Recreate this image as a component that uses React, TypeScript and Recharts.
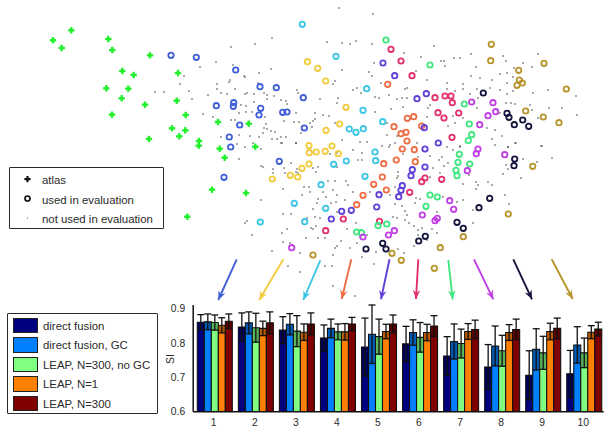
import { BarChart, Bar, XAxis, YAxis, ErrorBar, ScatterChart, Scatter, ReferenceLine } from "recharts";

type Pt = [number, number];

const atlas: Pt[] = [[71.3,30.3],[53,40.3],[61.7,48],[108.3,39],[112.3,50],[150,55.3],[122.3,71],[133.7,75],[178,73],[106.3,88.3],[128.3,88.7],[121.7,98.3],[145,104.7],[176.7,100.7],[112,114.7],[185.7,115],[218,122],[248.7,123.7],[172,128.3],[185.3,130.3],[179.3,136.3],[149,139],[199,141],[198.7,145.7],[219.7,148.7],[255.3,146.7],[224.7,157.7],[212,189.7],[246,193],[187.3,216.7]];

const notUsed: Pt[] = [
  [231,47],[255,44],[272,38],[216,62],[200,67],[233,65],[271,69],[259,73],[184,76],[244,76],[245,77],[230,80],[229,82],[180,84],[217,84],[258,83],[189,91],[155,92],[164,92],[217,89],[221,93],[227,94],[235,89],[245,94],[247,93],[254,94],[264,93],[267,95],[274,96],[297,90],[298,93],[208,95],[192,99],[267,99],[281,100],[286,101],[287,104],[241,105],[246,106],[254,102],[203,114],[239,113],[246,112],[252,112],[265,117],[296,113],[213,117],[231,120],[235,120],[266,124],[284,121],[294,122],[299,122],[264,128],[267,129],[271,131],[275,132],[263,133],[250,136],[239,135],[221,137],[259,137],[281,137],[286,137],[296,143],[301,133],[272,139],[277,139],[281,143],[237,144],[253,143],[245,147],[261,149],
  [339,8],[373,14],[327,42],[342,43],[350,44],[356,41],[372,44],[434,46],[404,53],[421,57],[471,54],[441,61],[444,61],[445,66],[454,58],[460,58],[476,67],[503,56],[506,61],[538,54],[532,67],[523,63],[514,68],[342,70],[369,72],[372,76],[374,63],[416,71],[427,80],[335,81],[333,84],[381,83],[447,83],[463,84],[471,76],[480,78],[492,80],[500,74],[507,73],[507,83],[513,77],[533,93],[548,90],[576,96],[353,90],[357,88],[361,93],[375,97],[379,98],[389,95],[397,99],[402,98],[407,98],[405,89],[407,88],[320,99],[338,98],[337,103],[447,89],[455,91],[463,89],[470,94],[477,89],[478,98],[490,88],[500,90],[507,94],[513,91],[506,103],[511,103],[515,104],[530,105],[532,110],[549,108],[562,108],[577,115],[538,118],[500,113],[315,113],[323,115],[329,116],[375,112],[391,109],[403,107],[428,108],[430,105],[477,108],[453,116],[463,118],[427,117],[315,119],[313,121],[310,123],[335,123],[387,123],[312,127],[455,123],[448,126],[487,128],[495,130],[502,136],[492,139],[387,135],[397,136],[342,140],[360,142],[367,142],[390,145],[382,146],[417,143],[447,147],[460,146],[508,147],[515,143],[542,146],
  [239,159],[282,143],[296,143],[261,166],[263,167],[273,169],[273,173],[284,168],[285,173],[291,163],[297,169],[296,172],[298,173],[313,168],[316,172],[318,167],[337,167],[335,181],[328,181],[346,181],[348,185],[353,150],[362,153],[358,160],[362,160],[330,154],[337,153],[283,189],[304,187],[309,187],[310,192],[323,192],[333,190],[353,192],[261,200],[302,195],[318,199],[317,203],[326,197],[337,195],[331,203],[336,202],[345,200],[370,192],[283,214],[291,214],[313,209],[307,218],[315,217],[320,218],[337,212],[245,223],[247,221],[252,235],[282,233],[287,229],[306,238],[311,228],[313,229],[316,226],[318,238],[325,238],[347,229],[356,223],[360,237],[367,235],[283,242],[290,243],[272,251],[300,253],[333,255],[337,246],[335,248],[341,241],[350,248],[357,243],[362,257],[376,252],[288,266],[300,272],[325,266],[332,266],[333,286],[355,296],[374,264],
  [389,147],[395,143],[403,154],[418,157],[430,156],[442,157],[439,160],[448,163],[444,166],[453,150],[460,147],[495,145],[508,147],[516,143],[541,146],[552,158],[523,159],[537,162],[506,165],[508,169],[503,174],[521,178],[488,182],[492,185],[398,172],[398,176],[397,178],[433,168],[430,177],[440,173],[469,175],[476,182],[478,185],[476,189],[463,184],[395,187],[390,195],[395,204],[402,206],[416,198],[420,199],[443,197],[457,202],[463,200],[505,195],[509,204],[473,210],[405,211],[407,215],[405,220],[393,217],[397,218],[415,203],[437,212],[409,223],[414,226],[418,230],[422,228],[432,229],[437,233],[418,235],[473,223],[427,240],[414,246],[398,249],[404,253],
];

const blueRings: Pt[] = [[171,55.3],[196.3,57.3],[235.7,70],[260,86.7],[276.3,87.7],[303.3,97.7],[216.3,105.7],[233.7,102.7],[233.3,106.3],[260.7,108.3],[259,115],[282.7,112.3],[287,112],[239.7,125],[304.3,128],[229.3,137],[230.7,147],[279.3,161.3],[224,177.3]];
const yellowRings: Pt[] = [[307.5,61.7],[317.7,68.3],[325.7,81],[346,107.3],[339.7,124],[326,130.3],[309,145.7],[332,146],[309.3,152.7],[316.3,152],[325.3,151.3],[338.3,153.7],[309,164],[302,168.3],[290.3,175.3],[297.7,177],[272.3,179]];
const cyanRings: Pt[] = [[302.3,24.3],[336,56.3],[366.7,88.7],[363,110.3],[382.7,121.7],[349.3,129],[356,132.3],[363.3,128.7],[375,152],[375.7,160.7],[346.3,161],[333.7,164.3],[365,176.3],[321,184.7],[294.3,203.3],[325.7,208.3],[304.7,221.7],[260.3,222]];
const orangeRings: Pt[] = [[387.7,84.3],[407.3,118.3],[413.7,116.7],[421.7,126],[394,126.7],[401,133.7],[406,132.3],[407,141],[402.3,149],[414.3,149.7],[383.7,163.7],[382.3,177],[373.7,184.3],[386.3,190],[363,195.3],[356.7,204.7],[396.3,160],[415.3,161.7]];
const purpleRings: Pt[] = [[383,63],[394.7,75.7],[417,98.7],[426.3,93.7],[424.3,127.7],[438.3,143],[425,149],[425,167],[412.3,169.7],[411,175.7],[402.3,185.7],[401,190.3],[398.7,196.7],[379,194.7],[376.7,207],[351.3,210.3],[341.7,211.3],[331.3,219]];
const pinkRings: Pt[] = [[391,49.3],[401,61],[412,75.7],[435,97.7],[445,96],[451,96],[452.3,102.7],[438,112.7],[444,118],[458.7,113],[452,137.3],[441.7,179.3],[425,178],[421.7,181.7],[409.7,192.3],[379.5,221.3],[343.3,219],[325.7,230.7]];
const greenRings: Pt[] = [[386,40],[430,65],[464.3,104],[469.3,124],[471.7,134.7],[468.3,140.5],[459.3,154.3],[458,162.3],[469.7,164],[456,170.3],[457,175.7],[430,195],[437.3,197],[426,206.3],[386.7,224],[378,225.7],[356.7,232],[361.3,232.7]];
const magentaRings: Pt[] = [[471.7,102],[493,102.7],[495.7,111.7],[488,115.7],[479.7,124.7],[478,149],[476.3,153.7],[504.7,154.7],[467.3,170.7],[449.7,200.7],[453.7,209.3],[422.3,215],[437.3,218.3],[435,220.7],[394.3,230.7],[388.5,235],[363,237],[291.7,247.7]];
const navyRings: Pt[] = [[483.3,93],[507,113.3],[509,117.3],[522.7,120],[514.3,124.7],[528.7,126.3],[514.7,159],[514,165.7],[489.7,198.3],[479,207.7],[457,222.3],[463.3,228.3],[425.3,236.3],[418.7,241],[382.7,243.3],[386,249],[366,249]];
const goldRings: Pt[] = [[491.3,44.3],[490.7,60.7],[544,63.3],[518.7,70.3],[519.3,80],[522.3,83],[517,85.3],[566.3,89],[525.7,111],[543.3,117],[559,122.7],[532.7,166.3],[508.3,214],[463.3,236.7],[440.3,247.7],[392,253.3],[401.3,260.3],[434.3,268.3],[313,255]];

const ringSets: [Pt[], string][] = [
  [blueRings, "#3f5fd6"],
  [yellowRings, "#f2cb3e"],
  [cyanRings, "#3cc6e4"],
  [orangeRings, "#ee6e44"],
  [purpleRings, "#6040d8"],
  [pinkRings, "#e2306e"],
  [greenRings, "#3fe67e"],
  [magentaRings, "#c03fe2"],
  [navyRings, "#14143e"],
  [goldRings, "#b8942c"],
];

// tail, tip, colour - one arrow per evaluation group
const arrows: [Pt, Pt, string][] = [
  [[236.7,259.3],[218.3,300],"#3f5fd6"],
  [[283.3,259.3],[259.3,300],"#f2cb3e"],
  [[320.3,260.3],[303.3,300],"#3cc6e4"],
  [[351.3,259.3],[341.7,299],"#ee6e44"],
  [[389.5,259.3],[381,299.3],"#6040d8"],
  [[418.3,259.3],[416,299],"#e2306e"],
  [[448.3,260],[452.7,299.3],"#3fe67e"],
  [[474,259.3],[493.3,299.3],"#c03fe2"],
  [[513.3,259.3],[532,299.3],"#14143e"],
  [[551.7,259.3],[572.7,299],"#b8942c"],
];

const groups = ["1", "2", "3", "4", "5", "6", "7", "8", "9", "10"];
const seriesNames = ["direct fusion", "direct fusion, GC", "LEAP, N=300, no GC", "LEAP, N=1", "LEAP, N=300"];
const seriesColors = ["#00007f", "#007fff", "#80ff80", "#ff7f00", "#7f0000"];

const directFusion = [0.860, 0.846, 0.837, 0.814, 0.788, 0.797, 0.762, 0.730, 0.706, 0.710];
const directFusionGC = [0.861, 0.858, 0.854, 0.842, 0.825, 0.830, 0.804, 0.791, 0.781, 0.794];
const leapNoGC = [0.859, 0.844, 0.834, 0.832, 0.818, 0.816, 0.798, 0.777, 0.771, 0.771];
const leapN1 = [0.851, 0.842, 0.831, 0.832, 0.833, 0.830, 0.833, 0.830, 0.833, 0.831];
const leapN300 = [0.863, 0.858, 0.855, 0.855, 0.855, 0.849, 0.839, 0.839, 0.842, 0.840];

const directFusionErr = [0.022, 0.041, 0.039, 0.038, 0.084, 0.051, 0.056, 0.065, 0.071, 0.068];
const directFusionGCErr = [0.023, 0.032, 0.031, 0.027, 0.085, 0.037, 0.051, 0.058, 0.060, 0.053];
const leapNoGCErr = [0.022, 0.042, 0.045, 0.023, 0.051, 0.043, 0.042, 0.045, 0.048, 0.043];
const leapN1Err = [0.022, 0.021, 0.024, 0.024, 0.021, 0.024, 0.023, 0.023, 0.024, 0.019];
const leapN300Err = [0.021, 0.032, 0.032, 0.019, 0.026, 0.030, 0.027, 0.030, 0.030, 0.020];

const means = [directFusion, directFusionGC, leapNoGC, leapN1, leapN300];
const errs = [directFusionErr, directFusionGCErr, leapNoGCErr, leapN1Err, leapN300Err];

const barData = groups.map((name, i) => {
  const row: Record<string, number | string> = { name };
  means.forEach((m, s) => {
    row[`m${s}`] = m[i];
    row[`e${s}`] = errs[s][i];
  });
  return row;
});

const toPoints = (pts: Pt[]) => pts.map(([x, y]) => ({ x, y }));

const FONT = '"Liberation Sans", Arial, sans-serif';

function Ring(props: any) {
  return <circle cx={props.cx} cy={props.cy} r={2.7} fill="none" stroke={props.ringColor} strokeWidth={1.8} />;
}

function Plus({ cx, cy }: any) {
  return (
    <g fill="#22f02c">
      <rect x={cx - 3.2} y={cy - 1.2} width={6.4} height={2.4} />
      <rect x={cx - 1.2} y={cy - 3.2} width={2.4} height={6.4} />
    </g>
  );
}

function Dot({ cx, cy }: any) {
  return <circle cx={cx} cy={cy} r={0.75} fill="#2a2a2a" />;
}

function arrowShape(color: string) {
  return ({ x1, y1, x2, y2 }: any) => {
    const a = Math.atan2(y2 - y1, x2 - x1);
    const back = (len: number, off: number) =>
      `${x2 - len * Math.cos(a) - off * Math.sin(a)},${y2 - len * Math.sin(a) + off * Math.cos(a)}`;
    return (
      <g>
        <line x1={x1} y1={y1} x2={x2} y2={y2} stroke={color} strokeWidth={1.9} />
        <polygon points={`${x2},${y2} ${back(9, 3.8)} ${back(6, 0)} ${back(9, -3.8)}`} fill={color} />
      </g>
    );
  };
}

function Embedding() {
  return (
    <ScatterChart width={612} height={432} margin={{ top: 0, right: 0, bottom: 0, left: 0 }}>
      <XAxis type="number" dataKey="x" domain={[0, 612]} hide />
      <YAxis type="number" dataKey="y" domain={[0, 432]} reversed hide />
      <Scatter data={toPoints(notUsed)} shape={<Dot />} isAnimationActive={false} />
      <Scatter data={toPoints(atlas)} shape={<Plus />} isAnimationActive={false} />
      {ringSets.map(([pts, color]) => (
        <Scatter key={color} data={toPoints(pts)} shape={<Ring ringColor={color} />} isAnimationActive={false} />
      ))}
      {arrows.map(([tail, tip, color]) => (
        <ReferenceLine
          key={color}
          segment={[{ x: tail[0], y: tail[1] }, { x: tip[0], y: tip[1] }]}
          shape={arrowShape(color)}
          ifOverflow="visible"
        />
      ))}
    </ScatterChart>
  );
}

function Bars() {
  return (
    <BarChart
      width={612}
      height={432}
      data={barData}
      margin={{ top: 305, right: 8.3, bottom: 0, left: 163.2 }}
      barCategoryGap="10%"
      barGap={0}
    >
      <XAxis
        dataKey="name"
        height={20.3}
        tickLine={false}
        axisLine={{ stroke: "#111", strokeWidth: 1.5 }}
        tick={{ fontSize: 10.3, fill: "#2a2a2a", fontFamily: FONT, dy: -1 }}
        interval={0}
      />
      <YAxis
        width={30}
        domain={[0.6, 0.91]}
        ticks={[0.6, 0.7, 0.8, 0.9]}
        tickLine={false}
        tickMargin={2}
        tickFormatter={(v) => v.toFixed(1)}
        axisLine={{ stroke: "#111", strokeWidth: 1.5 }}
        tick={{ fontSize: 10.3, fill: "#2a2a2a", fontFamily: FONT }}
        allowDataOverflow
      />
      {seriesNames.map((name, s) => (
        <Bar
          key={name}
          dataKey={`m${s}`}
          fill={seriesColors[s]}
          stroke="#111"
          strokeWidth={1.1}
          isAnimationActive={false}
        >
          <ErrorBar
            dataKey={(d: any) => [d[`e${s}`], 0]}
            width={0}
            stroke="#000"
            strokeOpacity={0.3}
            strokeWidth={5.5}
            isAnimationActive={false}
          />
          <ErrorBar dataKey={`e${s}`} width={3.5} stroke="#111" strokeWidth={1.3} isAnimationActive={false} />
        </Bar>
      ))}
    </BarChart>
  );
}

const boxStyle = {
  position: "absolute",
  boxSizing: "border-box",
  background: "#fff",
  border: "1.5px solid #2a2a2a",
  borderRadius: 1,
  fontFamily: FONT,
  fontSize: 11.4,
  color: "#2a2a2a",
} as const;

const rowText = { position: "absolute", whiteSpace: "nowrap", lineHeight: "14px" } as const;

function MarkerLegend() {
  const labels = ["atlas", "used in evaluation", "not used in evaluation"];
  const tops = [5, 24.7, 44.3];
  return (
    <div style={{ ...boxStyle, left: 9, top: 167, width: 155, height: 62 }}>
      {labels.map((label, i) => (
        <div key={label} style={{ ...rowText, left: 32, top: tops[i] }}>{label}</div>
      ))}
      <svg width={30} height={60} style={{ position: "absolute", left: 0, top: 0 }}>
        <rect x={14.4} y={10} width={6.2} height={2.2} fill="#111" />
        <rect x={16.4} y={8} width={2.2} height={6.2} fill="#111" />
        <circle cx={17.5} cy={30.5} r={2.5} fill="none" stroke="#111" strokeWidth={1.7} />
        <circle cx={17.5} cy={50} r={0.6} fill="#444" />
      </svg>
    </div>
  );
}

function SeriesLegend() {
  const tops = [3.5, 23, 42.5, 62, 81.5];
  return (
    <div style={{ ...boxStyle, left: 7, top: 313, width: 151, height: 101 }}>
      {seriesNames.map((name, i) => (
        <div key={name}>
          <div
            style={{
              position: "absolute",
              left: 4.5,
              top: tops[i],
              width: 25,
              height: 15.5,
              boxSizing: "border-box",
              background: seriesColors[i],
              border: "1px solid #222",
            }}
          />
          <div style={{ ...rowText, left: 35, top: tops[i] + 1 }}>{name}</div>
        </div>
      ))}
    </div>
  );
}

export default function App() {
  return (
    <div style={{ position: "absolute", left: 0, top: 0, width: 612, height: 432, background: "#fff", overflow: "hidden" }}>
      <div style={{ position: "absolute", left: 0, top: 0 }}>
        <Embedding />
      </div>
      <div style={{ position: "absolute", left: 0, top: 0 }}>
        <Bars />
      </div>
      <MarkerLegend />
      <SeriesLegend />
      <div
        style={{
          position: "absolute",
          left: 170,
          top: 359,
          transform: "translate(-50%, -50%) rotate(-90deg)",
          fontFamily: FONT,
          fontSize: 10.5,
          color: "#2a2a2a",
        }}
      >
        SI
      </div>
    </div>
  );
}
